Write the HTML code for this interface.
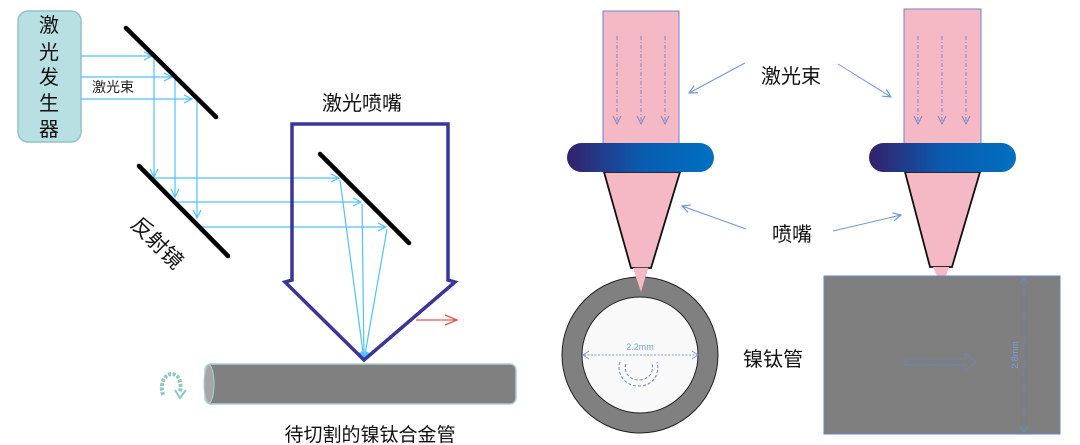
<!DOCTYPE html>
<html><head><meta charset="utf-8"><style>
html,body{margin:0;padding:0;background:#fff;}
svg{display:block;}
text{font-family:"Liberation Sans","Noto Sans CJK SC",sans-serif;}
</style></head><body>
<svg width="1080" height="445" viewBox="0 0 1080 445" xmlns="http://www.w3.org/2000/svg">
<defs>
<marker id="ab" markerWidth="10" markerHeight="10" refX="9" refY="5" orient="auto" markerUnits="userSpaceOnUse"><path d="M1,1 L9,5 L1,9" fill="none" stroke="#4fc3f7" stroke-width="1.2"/></marker>
<marker id="ar" markerWidth="14" markerHeight="12" refX="13" refY="6" orient="auto" markerUnits="userSpaceOnUse"><path d="M1,1 L13,6 L1,11" fill="none" stroke="#f05050" stroke-width="1.3"/></marker>
<marker id="al" markerWidth="10" markerHeight="10" refX="9" refY="5" orient="auto" markerUnits="userSpaceOnUse"><path d="M1,1 L9,5 L1,9" fill="none" stroke="#6f95e0" stroke-width="1.2"/></marker>
<marker id="ad" markerWidth="10" markerHeight="10" refX="9" refY="5" orient="auto" markerUnits="userSpaceOnUse"><path d="M1,1 L9,5 L1,9" fill="none" stroke="#7a86c8" stroke-width="1"/></marker>
<linearGradient id="rg" x1="0" x2="1" y1="0" y2="0"><stop offset="0" stop-color="#35206a"/><stop offset="0.5" stop-color="#0a5bb0"/><stop offset="1" stop-color="#0070c0"/></linearGradient>
<linearGradient id="tg" x1="0" x2="0" y1="0" y2="1"><stop offset="0" stop-color="#8a8a8a"/><stop offset="1" stop-color="#7a7a7a"/></linearGradient>
</defs>

<!-- LEFT PANEL -->
<rect x="18" y="11" width="63" height="131" rx="10" fill="#b8dfe2" stroke="#94c4c6" stroke-width="1.5"/>
<g font-size="20" fill="#111" text-anchor="middle">
<text x="49" y="32">激</text><text x="49" y="59">光</text><text x="49" y="84">发</text><text x="49" y="110">生</text><text x="49" y="136">器</text>
</g>

<g stroke="#4fc3f7" stroke-width="1.2" fill="none">
<line x1="81" y1="56" x2="152" y2="56" marker-end="url(#ab)"/>
<line x1="81" y1="77" x2="172" y2="77" marker-end="url(#ab)"/>
<line x1="81" y1="99" x2="192" y2="99" marker-end="url(#ab)"/>
<line x1="154" y1="58" x2="154" y2="177" marker-end="url(#ab)"/>
<line x1="175" y1="79" x2="175" y2="197" marker-end="url(#ab)"/>
<line x1="197" y1="101" x2="197" y2="218" marker-end="url(#ab)"/>
<line x1="150" y1="178" x2="339" y2="178" marker-end="url(#ab)"/>
<line x1="175" y1="202" x2="361" y2="202" marker-end="url(#ab)"/>
<line x1="200" y1="227" x2="386" y2="227" marker-end="url(#ab)"/>
<line x1="340" y1="180" x2="364" y2="360" marker-end="url(#ab)"/>
<line x1="362" y1="204" x2="364" y2="360" marker-end="url(#ab)"/>
<line x1="387" y1="229" x2="364" y2="360" marker-end="url(#ab)"/>
</g>
<text x="92" y="92" font-size="14" fill="#222">激光束</text>

<g stroke="#000" stroke-width="4.5" stroke-linecap="round">
<line x1="126" y1="28" x2="216" y2="117"/>
<line x1="139" y1="166" x2="228" y2="256"/>
<line x1="320" y1="154" x2="409" y2="243"/>
</g>
<text x="157" y="250" font-size="21" fill="#111" text-anchor="middle" transform="rotate(45 157 243)">反射镜</text>

<path d="M292,280 L292,124 L448,124 L448,280 L455,282 L364,360 L285,282 Z" fill="none" stroke="#3a3596" stroke-width="3.5" stroke-linejoin="miter"/>
<text x="362" y="110" font-size="20" fill="#111" text-anchor="middle">激光喷嘴</text>
<line x1="416" y1="320" x2="457" y2="320" stroke="#f05050" stroke-width="1.3" marker-end="url(#ar)"/>

<rect x="205" y="364" width="311" height="40" rx="6" fill="#808080" stroke="#a8cfd2" stroke-width="1.5"/>
<ellipse cx="209" cy="384" rx="5" ry="19" fill="#a6a6a6" stroke="#a8cfd2" stroke-width="1"/>
<path d="M163,395 C158,378 170,370 177,376 C181,380 181,387 180,392" fill="none" stroke="#8fc6c8" stroke-width="4" stroke-dasharray="3,1.5"/>
<path d="M175,390 L180,398 L186,390" fill="none" stroke="#8fc6c8" stroke-width="2"/>
<text x="370" y="441" font-size="19" fill="#111" text-anchor="middle">待切割的镍钛合金管</text>

<!-- RIGHT PANEL -->
<!-- left nozzle -->
<rect x="603" y="11" width="76" height="133" fill="#f5b9c5" stroke="#6d86c8" stroke-width="1"/>
<g stroke="#7a86c8" stroke-width="1" stroke-dasharray="4,2,1,2" fill="none">
<line x1="617" y1="36" x2="617" y2="124" marker-end="url(#ad)"/>
<line x1="641" y1="36" x2="641" y2="124" marker-end="url(#ad)"/>
<line x1="665" y1="36" x2="665" y2="124" marker-end="url(#ad)"/>
</g>
<path d="M604,172 L680,172 L651,268 L631,268 Z" fill="#f5b9c5" stroke="#111" stroke-width="1.8"/>
<path d="M635,268 L648,268 L641,290 Z" fill="#f5b9c5" stroke="#8aa0d8" stroke-width="0.6"/>
<rect x="567" y="143" width="147" height="29" rx="14.5" fill="url(#rg)"/>

<circle cx="640" cy="355" r="78" fill="#808080" stroke="#222" stroke-width="1"/>
<circle cx="640" cy="355" r="58" fill="#f9f9f9" stroke="#222" stroke-width="1"/>
<path d="M633,268 L648,268 L641,292 Z" fill="#f5b9c5"/>
<line x1="584" y1="355" x2="697" y2="355" stroke="#7a9be0" stroke-width="1" stroke-dasharray="2,1.5"/>
<path d="M589,351 L583,355 L589,359 M692,351 L698,355 L692,359" fill="none" stroke="#7a9be0" stroke-width="1"/>
<text x="640" y="350" font-size="9" fill="#7a9be0" text-anchor="middle">2.2mm</text>
<path d="M620,362 C616,372 624,387 640,386 C655,385 660,372 657,362" fill="none" stroke="#6d86c8" stroke-width="1" stroke-dasharray="3,2"/>
<path d="M626,364 C623,372 630,381 640,380 C650,379 654,371 652,364" fill="none" stroke="#6d86c8" stroke-width="1" stroke-dasharray="3,2"/>

<!-- labels and pointers -->
<text x="791" y="83" font-size="20" fill="#111" text-anchor="middle">激光束</text>
<text x="792" y="241" font-size="20" fill="#111" text-anchor="middle">喷嘴</text>
<text x="773" y="366" font-size="20" fill="#111" text-anchor="middle">镍钛管</text>
<g stroke="#6f95e0" stroke-width="1" fill="none">
<line x1="745" y1="63" x2="689" y2="93" marker-end="url(#al)"/>
<line x1="838" y1="64" x2="891" y2="97" marker-end="url(#al)"/>
<line x1="746" y1="229" x2="682" y2="206" marker-end="url(#al)"/>
<line x1="833" y1="231" x2="901" y2="215" marker-end="url(#al)"/>
</g>

<!-- right nozzle -->
<rect x="904" y="9" width="77" height="135" fill="#f5b9c5" stroke="#6d86c8" stroke-width="1"/>
<g stroke="#7a86c8" stroke-width="1" stroke-dasharray="4,2,1,2" fill="none">
<line x1="918" y1="36" x2="918" y2="124" marker-end="url(#ad)"/>
<line x1="942" y1="36" x2="942" y2="124" marker-end="url(#ad)"/>
<line x1="966" y1="36" x2="966" y2="124" marker-end="url(#ad)"/>
</g>
<path d="M905,172 L980,172 L952,267 L930,267 Z" fill="#f5b9c5" stroke="#111" stroke-width="1.8"/>
<path d="M933,267 L949,267 L946,276 L937,276 Z" fill="#f5b9c5"/>
<rect x="869" y="143" width="147" height="29" rx="14.5" fill="url(#rg)"/>

<rect x="824" y="276" width="236" height="158" fill="#7f7f7f" stroke="#6d86c8" stroke-width="1"/>
<line x1="1024" y1="279" x2="1024" y2="431" stroke="#6d86c8" stroke-width="0.8" stroke-dasharray="2,1"/>
<path d="M1020,284 L1024,278 L1028,284 M1020,426 L1024,432 L1028,426" fill="none" stroke="#6d86c8" stroke-width="1"/>
<text x="1018" y="355" font-size="9" fill="#7a9be0" text-anchor="middle" transform="rotate(-90 1018 355)">2.8mm</text>
<path d="M905,359 L965,359 L965,353 L976,362 L965,371 L965,365 L905,365 Z" fill="none" stroke="#6d86c8" stroke-width="1" stroke-dasharray="2,1"/>
</svg>
</body></html>
